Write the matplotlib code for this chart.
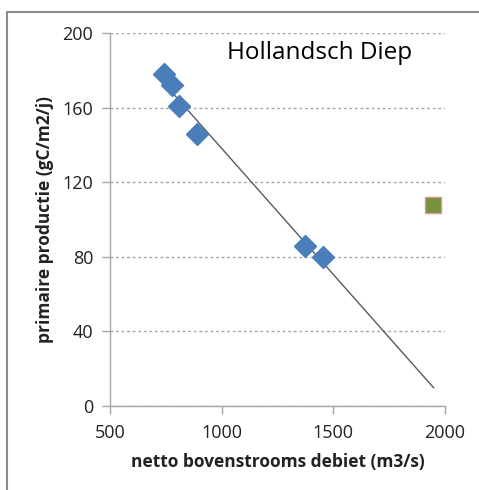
import matplotlib.pyplot as plt
import numpy as np
from matplotlib.patches import Rectangle

# debiet (m3/s) en primaire productie (gC/m2/j)
debiet = [742, 778, 810, 890, 1373, 1454]
productie = [178, 172, 161, 146, 86, 80]
debiet_extra = [1946]
productie_extra = [108]

x_ticks = [500, 1000, 1500, 2000]
y_ticks = [0, 40, 80, 120, 160, 200]

plt.rcParams['font.family'] = ['Open Sans', 'DejaVu Sans']

fig = plt.figure(figsize=(4.79, 4.90), dpi=100)
ax = fig.add_axes([0.2296, 0.1714, 0.699, 0.761])

# kader rond de figuur
fig.patches.append(Rectangle((7 / 479, -0.1), 1.2, 1 - 12 / 490 + 0.1,
                             transform=fig.transFigure, fill=False,
                             edgecolor='#8c8c8c', linewidth=1.5))

# lineaire trendlijn door de blauwe punten
coef = np.polyfit(debiet, productie, 1)
xl = np.array([min(debiet), max(debiet_extra) + 4])
ax.plot(xl, np.polyval(coef, xl), color='#5a5a5a', linewidth=1.0, zorder=2)

ax.plot(debiet, productie, linestyle='none', marker='D', markersize=11,
        color='#4a7ebb', markeredgecolor='#4a7ebb', zorder=3)
ax.plot(debiet_extra, productie_extra, linestyle='none', marker='s',
        markersize=11, color='#76923c', markeredgecolor='#d99694',
        markeredgewidth=1.0, zorder=3)

ax.set_xlim(500, 2000)
ax.set_ylim(0, 200)
ax.set_xticks(x_ticks)
ax.set_yticks(y_ticks)
ax.yaxis.grid(True, linestyle=(0, (2, 2)), color='#a6a6a6', linewidth=1.0)
ax.set_axisbelow(True)

for s in ['top', 'right']:
    ax.spines[s].set_visible(False)
for s in ['left', 'bottom']:
    ax.spines[s].set_color('#a6a6a6')
    ax.spines[s].set_linewidth(1.0)
ax.tick_params(axis='both', colors='#a6a6a6', labelcolor='#222222',
               labelsize=13, length=6, width=1.0)
ax.tick_params(axis='x', pad=7)
ax.tick_params(axis='y', pad=6)

ax.set_xlabel('netto bovenstrooms debiet (m3/s)', fontsize=12.5,
              fontweight='bold', color='#222222', labelpad=8)
ax.set_ylabel('primaire productie (gC/m2/j)', fontsize=12.5,
              fontweight='bold', color='#222222', labelpad=6)

ax.text(0.627, 0.946, 'Hollandsch Diep', transform=ax.transAxes,
        ha='center', va='center', fontsize=17.5, color='#000000')

fig.savefig('out.png', dpi=100)
